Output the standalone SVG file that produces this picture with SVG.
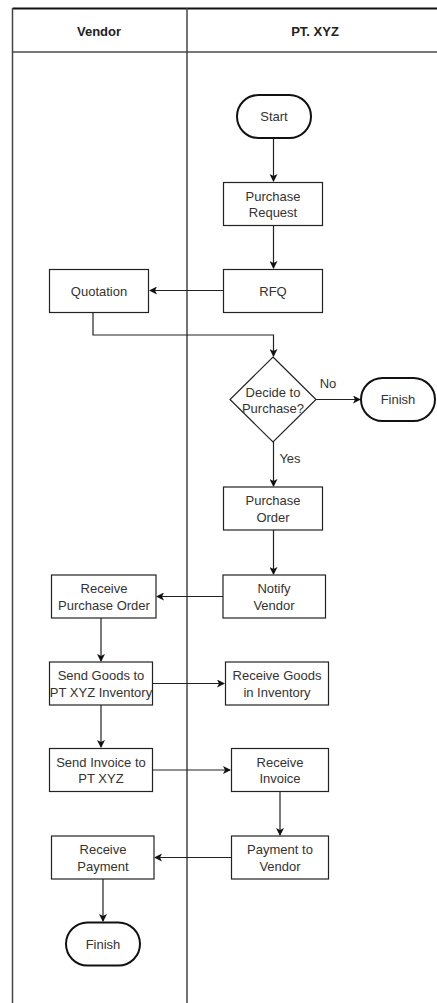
<svg xmlns="http://www.w3.org/2000/svg" width="437" height="1003" viewBox="0 0 437 1003">
  <style>
    .lane { fill: none; stroke: #444; stroke-width: 1.5; }
    .box { fill: #fff; stroke: #222; stroke-width: 1.2; }
    .term { fill: #fff; stroke: #111; stroke-width: 2; }
    .lbl { font-family: "Liberation Sans", Arial, sans-serif; font-size: 13px; fill: #333; text-anchor: middle; }
    .hdr { font-family: "Liberation Sans", Arial, sans-serif; font-size: 13px; font-weight: bold; fill: #222; text-anchor: middle; }
    .edge { fill: none; stroke: #222; stroke-width: 1.2; }
  </style>
  <defs>
    <marker id="arrow" markerWidth="8" markerHeight="8" refX="7" refY="4" orient="auto" markerUnits="userSpaceOnUse">
      <path d="M0,0 L8,4 L0,8 L2,4 Z" fill="#111"/>
    </marker>
  </defs>
  <rect width="437" height="1003" fill="#fff"/>

  <!-- swimlane frame -->
  <g id="lanes">
    <line x1="12.5" y1="8.5" x2="437" y2="8.5" stroke="#111" stroke-width="2"/>
    <line x1="12.5" y1="52" x2="437" y2="52" stroke="#777" stroke-width="2"/>
    <line x1="12.5" y1="8" x2="12.5" y2="1003" class="lane" stroke="#222"/>
    <line x1="187" y1="8" x2="187" y2="1003" class="lane"/>
    <text class="hdr" x="99" y="35.5">Vendor</text>
    <text class="hdr" x="315" y="35.5">PT. XYZ</text>
  </g>

  <!-- connectors -->
  <g id="connectors">
    <path class="edge" d="M273.5,138 V181" marker-end="url(#arrow)"/>
    <path class="edge" d="M273.5,226 V268" marker-end="url(#arrow)"/>
    <path class="edge" d="M223,290.5 H150" marker-end="url(#arrow)"/>
    <path class="edge" d="M93,312 V335 H273.5 V356" marker-end="url(#arrow)"/>
    <path class="edge" d="M316,399.5 H360" marker-end="url(#arrow)"/>
    <text class="lbl" x="328" y="387.5">No</text>
    <path class="edge" d="M273.5,442 V486" marker-end="url(#arrow)"/>
    <text class="lbl" x="290" y="463">Yes</text>
    <path class="edge" d="M273.5,530 V574" marker-end="url(#arrow)"/>
    <path class="edge" d="M223,596.5 H157" marker-end="url(#arrow)"/>
    <path class="edge" d="M101,618 V661" marker-end="url(#arrow)"/>
    <path class="edge" d="M152,683.5 H224" marker-end="url(#arrow)"/>
    <path class="edge" d="M101,705 V747" marker-end="url(#arrow)"/>
    <path class="edge" d="M152,770 H230" marker-end="url(#arrow)"/>
    <path class="edge" d="M280,792 V835" marker-end="url(#arrow)"/>
    <path class="edge" d="M231,857.5 H155" marker-end="url(#arrow)"/>
    <path class="edge" d="M103,879 V921" marker-end="url(#arrow)"/>
  </g>

  <!-- PT. XYZ lane -->
  <g id="start">
    <rect class="term" x="237" y="95" width="74" height="43" rx="21.5"/>
    <text class="lbl" x="274" y="121">Start</text>
  </g>
  <g id="purchase-request">
    <rect class="box" x="223.5" y="182.5" width="99" height="43"/>
    <text class="lbl" x="273" y="200.5">Purchase</text>
    <text class="lbl" x="273" y="217">Request</text>
  </g>
  <g id="rfq">
    <rect class="box" x="223.5" y="269.5" width="99" height="43"/>
    <text class="lbl" x="273" y="295.5">RFQ</text>
  </g>
  <g id="decide">
    <polygon class="box" points="273,357 316,399.5 273,442 230,399.5"/>
    <text class="lbl" x="273" y="396.5">Decide to</text>
    <text class="lbl" x="273" y="413">Purchase?</text>
  </g>
  <g id="finish-no">
    <rect class="term" x="361" y="378" width="74" height="43" rx="21.5"/>
    <text class="lbl" x="398" y="404">Finish</text>
  </g>
  <g id="purchase-order">
    <rect class="box" x="223.5" y="487" width="99" height="43"/>
    <text class="lbl" x="273" y="505">Purchase</text>
    <text class="lbl" x="273" y="521.5">Order</text>
  </g>
  <g id="notify-vendor">
    <rect class="box" x="223" y="575" width="102.5" height="43"/>
    <text class="lbl" x="274" y="593">Notify</text>
    <text class="lbl" x="274" y="609.5">Vendor</text>
  </g>
  <g id="receive-goods">
    <rect class="box" x="225.5" y="662" width="103" height="43"/>
    <text class="lbl" x="277" y="680">Receive Goods</text>
    <text class="lbl" x="277" y="696.5">in Inventory</text>
  </g>
  <g id="receive-invoice">
    <rect class="box" x="231.5" y="748.5" width="97" height="43"/>
    <text class="lbl" x="280" y="766.5">Receive</text>
    <text class="lbl" x="280" y="783">Invoice</text>
  </g>
  <g id="payment-to-vendor">
    <rect class="box" x="231.5" y="836" width="97" height="43"/>
    <text class="lbl" x="280" y="854">Payment to</text>
    <text class="lbl" x="280" y="870.5">Vendor</text>
  </g>

  <!-- Vendor lane -->
  <g id="quotation">
    <rect class="box" x="49.5" y="269.5" width="99" height="43"/>
    <text class="lbl" x="99" y="295.5">Quotation</text>
  </g>
  <g id="receive-po">
    <rect class="box" x="51.5" y="575" width="104.5" height="43"/>
    <text class="lbl" x="104" y="593">Receive</text>
    <text class="lbl" x="104" y="609.5">Purchase Order</text>
  </g>
  <g id="send-goods">
    <rect class="box" x="49.5" y="662" width="103" height="43"/>
    <text class="lbl" x="101" y="680">Send Goods to</text>
    <text class="lbl" x="101" y="696.5">PT XYZ Inventory</text>
  </g>
  <g id="send-invoice">
    <rect class="box" x="49.5" y="748.5" width="103" height="43"/>
    <text class="lbl" x="101" y="766.5">Send Invoice to</text>
    <text class="lbl" x="101" y="783">PT XYZ</text>
  </g>
  <g id="receive-payment">
    <rect class="box" x="51.5" y="836" width="102.5" height="43"/>
    <text class="lbl" x="103" y="854">Receive</text>
    <text class="lbl" x="103" y="870.5">Payment</text>
  </g>
  <g id="finish">
    <rect class="term" x="66" y="922.5" width="74" height="43" rx="21.5"/>
    <text class="lbl" x="103" y="948.5">Finish</text>
  </g>
</svg>
